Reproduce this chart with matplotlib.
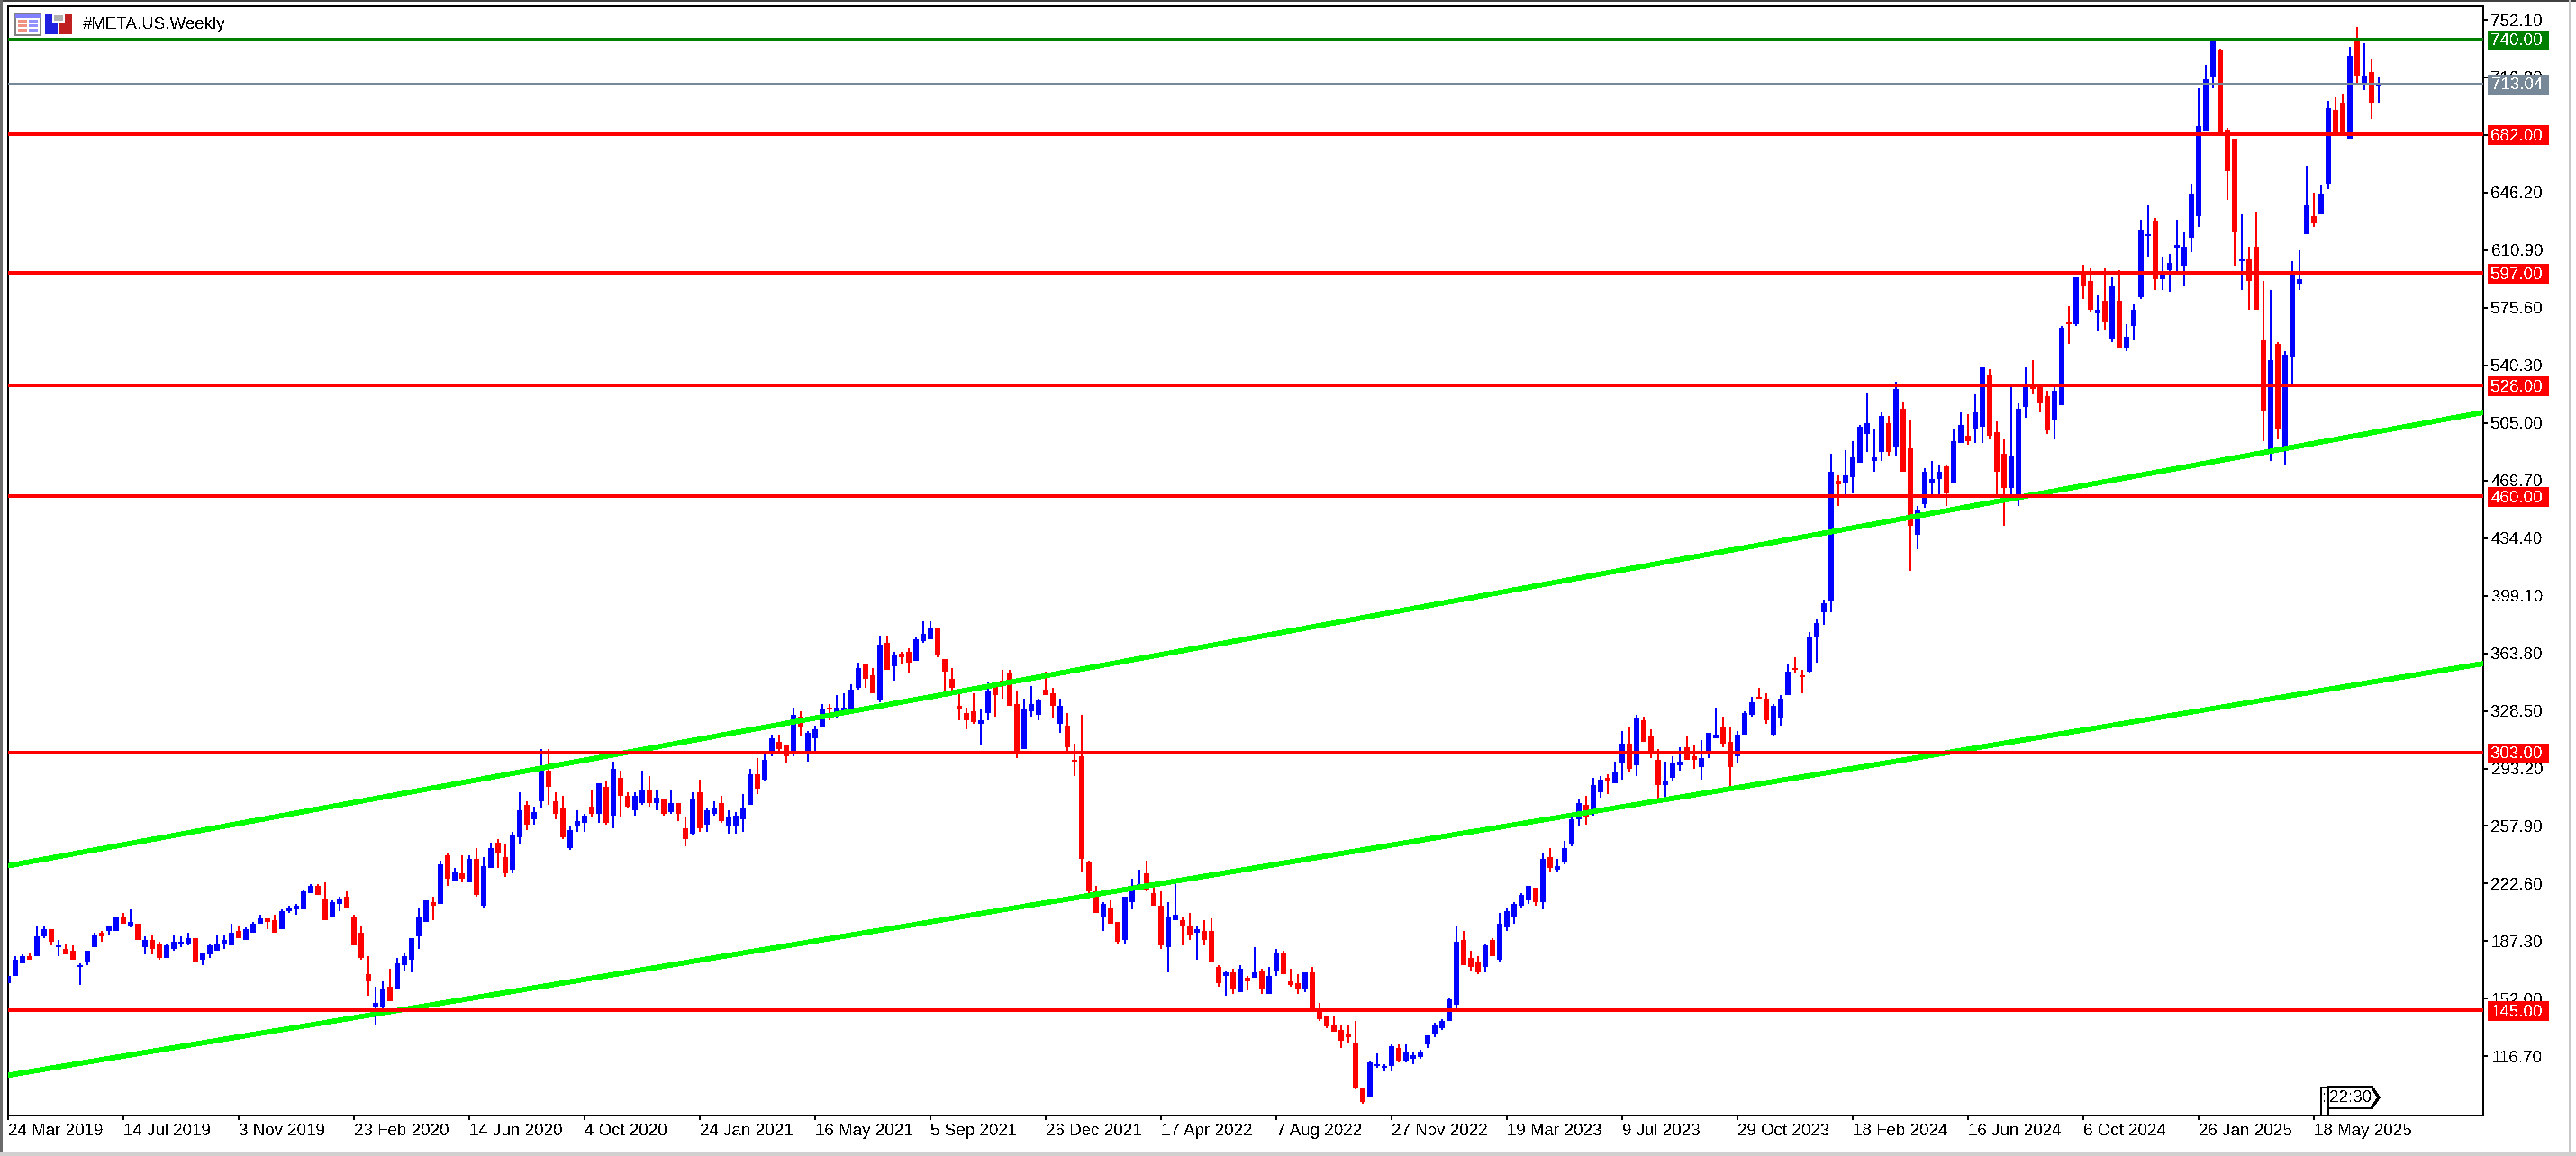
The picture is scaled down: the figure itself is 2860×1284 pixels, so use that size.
#!/usr/bin/env python3
"""Weekly #META.US candles with support/resistance levels, terminal look."""

import matplotlib

matplotlib.use("Agg")
import matplotlib.pyplot as plt
from matplotlib.patches import Polygon, Rectangle
from matplotlib.transforms import IdentityTransform

opens = [
    161.8, 166.0, 173.7, 178.1, 178.1, 190.3, 194.7, 183.7, 182.6, 181.4,
    171.5, 174.8, 183.7, 192.5, 193.6, 193.6, 202.4, 196.9, 198.0, 183.7,
    188.1, 185.9, 177.0, 182.6, 185.9, 185.9, 189.2, 175.9, 179.2, 181.4,
    185.9, 184.8, 193.6, 188.1, 192.5, 198.0, 201.3, 200.2, 194.7, 205.7,
    206.8, 206.8, 216.8, 221.2, 213.5, 202.4, 210.2, 214.6, 202.4, 192.5,
    167.1, 147.3, 147.3, 159.4, 158.3, 172.6, 175.9, 190.3, 199.1, 211.3,
    210.2, 240.0, 224.5, 228.9, 223.4, 237.8, 209.0, 232.2, 247.7, 238.9,
    231.1, 251.0, 270.9, 262.0, 273.1, 291.8, 273.1, 268.7, 244.4, 257.6,
    259.8, 269.8, 265.4, 281.9, 264.2, 287.4, 276.4, 267.5, 271.9, 279.7,
    271.9, 274.1, 266.4, 271.9, 256.5, 253.2, 278.6, 258.7, 265.3, 271.9,
    257.6, 257.6, 262.0, 270.8, 289.6, 286.3, 302.8, 309.5, 307.3, 301.7,
    324.9, 304.0, 311.7, 318.3, 330.4, 326.0, 326.4, 329.3, 342.6, 356.9,
    350.3, 334.9, 370.2, 355.8, 363.6, 364.7, 359.2, 371.3, 372.4, 379.0,
    360.3, 348.1, 331.6, 327.1, 328.2, 320.5, 327.1, 343.0, 347.0, 351.4,
    332.7, 305.1, 328.2, 326.0, 341.5, 339.3, 320.5, 319.4, 298.4, 300.6,
    235.5, 217.8, 202.4, 207.9, 199.1, 188.0, 211.2, 218.8, 228.9, 216.7,
    209.0, 183.6, 200.2, 200.2, 196.9, 192.4, 193.6, 193.6, 171.5, 166.0,
    168.2, 156.0, 164.9, 164.9, 169.3, 155.0, 169.3, 180.3, 162.7, 161.6,
    158.3, 168.2, 144.3, 141.7, 136.2, 132.9, 130.7, 125.1, 97.5, 92.0,
    110.8, 109.7, 110.8, 121.8, 114.1, 115.2, 116.3, 124.0, 130.7, 134.0,
    138.4, 148.3, 188.1, 177.0, 174.8, 171.5, 188.1, 175.9, 195.8, 202.4,
    209.0, 212.4, 220.1, 211.3, 238.9, 231.1, 235.5, 246.5, 262.0, 270.8,
    265.3, 278.5, 287.4, 284.1, 296.2, 308.4, 295.1, 322.7, 312.8, 298.4,
    283.0, 287.4, 295.1, 306.1, 300.6, 294.0, 303.9, 311.7, 318.3, 309.5,
    300.6, 313.9, 326.0, 337.0, 335.9, 313.9, 323.8, 338.2, 354.7, 350.3,
    352.5, 373.5, 388.9, 395.5, 469.5, 468.4, 471.7, 480.5, 498.2, 481.6,
    487.2, 504.8, 490.5, 513.7, 489.4, 436.4, 455.1, 468.4, 470.6, 478.3,
    468.4, 492.7, 497.1, 501.5, 502.6, 534.6, 499.3, 486.0, 465.1, 459.6,
    514.8, 526.9, 526.9, 521.4, 507.0, 515.9, 566.7, 565.6, 596.5, 592.1,
    572.2, 579.9, 556.7, 579.9, 551.2, 564.5, 582.1, 619.7, 628.5, 593.2,
    598.7, 611.9, 600.9, 618.6, 631.8, 683.7, 716.8, 733.4, 684.8, 679.3,
    604.2, 605.3, 613.1, 555.6, 488.3, 553.4, 490.1, 545.7, 589.9, 620.8,
    631.8, 632.9, 651.7, 696.9, 701.4, 679.3, 738.9, 713.5, 720.1, 711.5,
]
closes = [
    166.0, 175.9, 178.1, 175.9, 190.3, 194.7, 187.0, 184.8, 179.2, 175.9,
    172.6, 181.4, 191.4, 190.3, 196.9, 202.4, 198.0, 199.1, 188.1, 188.1,
    182.6, 177.0, 184.8, 187.0, 187.0, 189.2, 174.8, 180.3, 184.8, 185.9,
    188.1, 192.5, 189.2, 194.7, 198.0, 201.3, 199.1, 192.5, 205.7, 207.9,
    209.0, 217.9, 221.2, 215.7, 200.2, 211.3, 213.5, 207.9, 184.8, 177.0,
    162.7, 149.5, 158.3, 150.6, 173.7, 178.1, 189.2, 202.4, 212.4, 209.0,
    234.4, 225.6, 230.0, 225.6, 237.8, 215.7, 233.3, 244.4, 241.1, 228.9,
    252.1, 267.6, 258.7, 266.5, 291.8, 281.9, 265.4, 251.0, 255.4, 260.9,
    264.2, 265.4, 284.1, 259.8, 293.0, 276.4, 269.8, 276.4, 279.7, 271.9,
    275.2, 265.3, 271.9, 265.3, 249.9, 274.1, 256.5, 267.5, 268.6, 260.9,
    263.1, 264.2, 268.6, 289.6, 280.8, 298.4, 311.7, 305.1, 300.6, 326.0,
    318.3, 315.0, 317.2, 329.3, 329.3, 330.4, 330.4, 341.5, 354.7, 348.1,
    339.3, 369.1, 353.6, 362.5, 361.4, 358.0, 372.4, 375.7, 379.0, 362.5,
    352.5, 342.6, 329.3, 322.7, 321.6, 322.7, 340.4, 338.2, 345.5, 331.6,
    302.8, 329.3, 332.7, 334.9, 338.2, 331.6, 331.6, 306.2, 297.3, 237.7,
    217.8, 204.6, 210.1, 198.0, 186.9, 214.5, 219.0, 222.3, 218.8, 209.0,
    184.7, 202.4, 203.5, 196.9, 191.3, 194.7, 188.0, 174.8, 161.5, 168.2,
    158.2, 170.4, 162.7, 168.2, 158.3, 166.0, 180.3, 167.1, 160.5, 158.3,
    168.2, 146.1, 139.5, 135.1, 131.8, 126.2, 128.5, 97.5, 88.7, 113.0,
    111.9, 110.8, 122.9, 114.1, 119.6, 117.4, 119.6, 129.6, 136.2, 138.4,
    151.6, 187.0, 172.6, 171.5, 168.2, 184.8, 178.1, 198.0, 205.7, 210.2,
    215.7, 221.2, 211.3, 237.8, 232.2, 233.3, 244.4, 262.0, 271.9, 263.8,
    283.0, 286.3, 285.2, 290.7, 308.4, 292.9, 323.8, 309.5, 303.9, 283.0,
    285.2, 296.2, 297.3, 298.4, 298.4, 299.5, 315.0, 313.9, 308.4, 294.0,
    313.9, 327.1, 333.7, 335.9, 322.7, 331.5, 335.9, 352.5, 353.6, 349.2,
    373.5, 382.3, 394.5, 475.0, 467.3, 472.8, 483.8, 502.6, 504.8, 483.8,
    509.2, 487.2, 525.8, 475.0, 441.9, 451.8, 475.0, 470.6, 475.0, 461.8,
    493.8, 503.7, 493.8, 511.4, 539.0, 497.1, 475.0, 465.1, 484.9, 513.7,
    526.9, 525.8, 517.0, 500.4, 524.7, 563.4, 565.6, 594.2, 588.8, 574.4,
    574.4, 566.7, 588.8, 551.2, 557.8, 574.4, 623.0, 620.8, 593.2, 595.4,
    603.1, 614.2, 613.1, 645.1, 687.0, 715.7, 740.0, 682.4, 659.4, 621.9,
    605.3, 592.1, 574.4, 512.6, 543.5, 501.6, 546.8, 596.8, 593.2, 638.4,
    627.4, 645.1, 698.0, 681.5, 681.5, 730.1, 717.9, 717.9, 701.4, 713.04,
]
highs = [
    166.0, 178.1, 179.2, 180.3, 196.9, 196.9, 194.7, 188.1, 185.9, 184.8,
    173.7, 181.4, 192.5, 193.6, 196.9, 202.4, 204.6, 206.8, 198.0, 190.3,
    191.4, 187.0, 185.9, 191.4, 190.3, 192.5, 189.2, 180.3, 185.9, 191.4,
    191.4, 198.0, 196.9, 195.8, 199.1, 203.5, 201.3, 203.5, 206.8, 209.0,
    210.2, 219.0, 222.3, 222.3, 223.4, 212.4, 214.6, 217.9, 203.5, 196.9,
    178.1, 159.4, 162.7, 170.4, 177.0, 180.3, 189.2, 207.9, 212.4, 214.6,
    236.6, 241.1, 232.2, 240.0, 240.0, 244.4, 238.9, 247.7, 249.9, 246.6,
    254.3, 278.6, 273.1, 269.8, 305.3, 305.3, 278.6, 276.4, 257.6, 267.6,
    265.4, 279.7, 284.1, 285.2, 297.4, 291.8, 278.6, 278.6, 291.8, 288.5,
    279.7, 274.1, 279.7, 271.9, 263.1, 278.6, 286.3, 268.6, 273.0, 276.4,
    267.5, 266.4, 277.5, 292.9, 299.5, 301.7, 313.9, 313.9, 307.3, 330.4,
    328.2, 316.1, 319.4, 332.7, 332.7, 338.2, 339.3, 344.8, 358.0, 356.9,
    354.7, 374.6, 374.6, 364.7, 364.7, 366.9, 373.5, 383.4, 383.4, 379.0,
    360.3, 354.7, 339.3, 330.4, 339.3, 329.3, 345.9, 344.8, 353.6, 353.6,
    340.4, 336.0, 343.7, 336.0, 352.5, 342.6, 336.0, 327.1, 308.4, 326.0,
    236.6, 221.2, 211.2, 212.3, 199.1, 214.5, 225.6, 231.1, 236.6, 220.0,
    217.8, 211.2, 222.3, 202.4, 204.6, 196.9, 200.2, 201.3, 172.6, 169.3,
    170.4, 172.6, 166.0, 183.7, 170.4, 171.5, 182.6, 181.4, 170.4, 167.1,
    168.2, 171.5, 149.4, 141.7, 141.7, 136.2, 136.2, 138.4, 97.5, 114.1,
    118.5, 111.9, 124.0, 124.0, 124.0, 119.6, 120.7, 129.6, 137.3, 139.5,
    152.7, 196.9, 193.6, 181.4, 178.1, 185.9, 189.2, 204.6, 207.9, 211.3,
    216.8, 221.2, 220.1, 241.1, 244.4, 237.8, 248.8, 264.7, 274.1, 276.3,
    287.4, 288.5, 289.6, 297.3, 316.1, 318.3, 326.0, 324.9, 317.2, 305.0,
    297.3, 300.6, 306.1, 312.8, 307.2, 310.6, 315.0, 330.4, 324.9, 318.3,
    316.1, 328.2, 337.0, 342.6, 339.3, 332.6, 338.2, 356.9, 361.3, 353.6,
    376.8, 384.5, 396.7, 486.0, 472.8, 488.3, 493.8, 503.7, 523.6, 501.5,
    511.4, 509.2, 530.2, 518.1, 507.0, 454.0, 477.2, 481.6, 479.4, 479.4,
    501.5, 511.4, 510.3, 522.5, 539.0, 537.9, 505.9, 494.9, 526.9, 517.0,
    539.0, 543.5, 528.7, 524.7, 526.9, 564.5, 576.7, 594.2, 602.0, 599.8,
    583.2, 599.8, 594.2, 598.7, 565.6, 577.7, 629.6, 638.4, 630.7, 606.4,
    608.6, 629.6, 621.9, 651.7, 710.2, 724.6, 740.0, 734.5, 685.9, 679.3,
    632.9, 613.1, 634.0, 592.1, 586.5, 554.5, 549.0, 604.2, 610.8, 662.7,
    646.2, 650.6, 702.5, 704.7, 706.9, 735.6, 747.7, 737.8, 727.9, 716.8,
]
lows = [
    161.8, 166.0, 173.7, 175.9, 178.1, 189.2, 184.8, 178.1, 179.2, 175.9,
    160.5, 172.6, 183.7, 187.0, 191.4, 193.6, 198.0, 195.8, 188.1, 179.2,
    179.2, 175.9, 177.0, 181.4, 183.7, 184.8, 174.8, 172.6, 177.0, 181.4,
    182.6, 184.8, 189.2, 188.1, 192.5, 198.0, 194.7, 192.5, 194.7, 204.6,
    203.5, 206.8, 216.8, 215.7, 200.2, 202.4, 205.7, 207.9, 184.8, 175.9,
    153.9, 136.2, 146.2, 150.6, 158.3, 169.3, 168.2, 182.6, 199.1, 200.2,
    210.2, 221.2, 224.5, 223.4, 223.4, 214.6, 207.9, 232.2, 232.2, 226.7,
    228.9, 246.6, 255.4, 258.7, 268.7, 270.9, 262.0, 249.9, 243.3, 254.3,
    254.3, 263.1, 259.8, 258.7, 256.5, 263.1, 268.7, 264.2, 270.8, 269.7,
    267.5, 264.2, 265.3, 260.9, 245.4, 252.1, 254.3, 254.3, 264.2, 259.8,
    253.2, 253.2, 254.3, 270.8, 277.5, 285.2, 300.6, 302.8, 296.2, 300.6,
    312.8, 297.3, 302.8, 318.3, 322.7, 324.6, 326.4, 329.3, 341.5, 342.6,
    339.3, 333.8, 353.6, 347.0, 356.9, 351.4, 359.2, 370.2, 372.4, 361.4,
    340.4, 340.4, 322.7, 317.2, 320.5, 307.3, 322.7, 324.9, 336.0, 331.6,
    299.5, 305.1, 324.9, 322.7, 338.2, 323.8, 315.0, 304.0, 288.5, 230.0,
    216.7, 204.6, 193.6, 198.0, 185.8, 185.8, 206.8, 218.8, 217.8, 209.0,
    182.5, 168.2, 200.2, 184.7, 188.0, 175.9, 184.7, 174.8, 159.3, 153.8,
    154.9, 156.0, 157.2, 164.9, 155.0, 155.0, 166.0, 167.1, 159.4, 155.0,
    156.1, 146.1, 138.4, 134.0, 131.8, 121.8, 125.1, 96.4, 87.6, 92.0,
    109.7, 107.5, 107.5, 113.0, 113.0, 111.9, 115.2, 121.8, 128.5, 132.9,
    138.4, 146.1, 172.6, 169.3, 167.1, 168.2, 178.1, 174.8, 193.6, 198.0,
    207.9, 210.2, 209.0, 206.8, 230.0, 230.0, 234.4, 245.4, 257.6, 258.7,
    264.2, 275.2, 277.4, 284.1, 286.3, 290.7, 288.5, 309.5, 299.5, 274.9,
    274.9, 285.2, 291.8, 298.4, 292.9, 286.3, 299.5, 311.7, 306.1, 281.8,
    296.2, 313.9, 324.9, 335.9, 320.5, 312.8, 319.4, 338.2, 351.4, 339.3,
    351.4, 358.0, 381.2, 388.9, 454.0, 460.7, 461.8, 480.5, 487.2, 475.0,
    481.6, 485.0, 485.0, 475.0, 414.3, 427.5, 452.9, 460.7, 460.7, 454.0,
    468.4, 492.7, 491.6, 492.7, 492.7, 494.9, 460.7, 441.9, 460.7, 454.0,
    508.1, 522.5, 511.4, 498.2, 494.9, 515.9, 553.5, 564.5, 581.0, 573.3,
    561.2, 562.3, 554.5, 551.2, 549.0, 555.6, 581.0, 606.4, 586.5, 586.5,
    585.4, 596.8, 588.8, 609.7, 625.2, 683.7, 710.2, 682.4, 641.7, 600.9,
    586.5, 574.4, 574.4, 493.8, 481.7, 494.9, 479.5, 529.1, 586.5, 620.8,
    625.2, 632.9, 648.4, 681.5, 681.5, 679.3, 713.5, 709.1, 691.4, 701.4,
]

date_labels = [
    "24 Mar 2019", "14 Jul 2019", "3 Nov 2019", "23 Feb 2020", "14 Jun 2020",
    "4 Oct 2020", "24 Jan 2021", "16 May 2021", "5 Sep 2021", "26 Dec 2021",
    "17 Apr 2022", "7 Aug 2022", "27 Nov 2022", "19 Mar 2023", "9 Jul 2023",
    "29 Oct 2023", "18 Feb 2024", "16 Jun 2024", "6 Oct 2024", "26 Jan 2025",
    "18 May 2025",
]
price_ticks = [
    752.10, 716.80, 681.50, 646.20, 610.90, 575.60, 540.30, 505.00, 469.70, 434.40,
    399.10, 363.80, 328.50, 293.20, 257.90, 222.60, 187.30, 152.00, 116.70,
]
red_levels = [682.0, 597.0, 528.0, 460.0, 303.0, 145.0]
green_level = 740.0
last_price = 713.04
upper_trend = [233.5, 511.5]
lower_trend = [105.1, 357.5]

WIDTH, HEIGHT = 2860, 1284
FONT = "Liberation Sans"
FS = 13.5
BLUE, RED, LIME = "#0000ff", "#ff0000", "#00ff00"

plt.rcParams["font.family"] = [FONT, "DejaVu Sans"]
plt.rcParams["text.antialiased"] = False


def fig_rect(fig, x, y, w, h, color):
    """Rectangle in image pixels, y counted from the top."""
    fig.add_artist(Rectangle((x, HEIGHT - y - h), w, h, transform=IdentityTransform(),
                             facecolor=color, edgecolor="none", antialiased=False))


def draw_icons(fig):
    fig_rect(fig, 16, 14, 30, 26, "#808080")
    fig_rect(fig, 18, 16, 26, 22, "#ffffff")
    fig_rect(fig, 17, 15, 28, 5, "#8080ff")
    for y in (22, 27, 32):
        fig_rect(fig, 20, y, 10, 3, "#f09080")
        fig_rect(fig, 32, y, 10, 3, "#9090ff")
    fig_rect(fig, 50, 16, 8, 22, "#2020e0")
    fig_rect(fig, 50, 26, 14, 12, "#2020e0")
    fig_rect(fig, 60, 17, 10, 6, "#b0b0b0")
    fig_rect(fig, 72, 16, 8, 22, "#c02020")
    fig_rect(fig, 66, 26, 14, 12, "#c02020")


def draw_frame(fig):
    fig_rect(fig, 0, 0, WIDTH, 2, "#404040")
    fig_rect(fig, 0, 0, 3, HEIGHT, "#6a6a6a")
    fig_rect(fig, 2852, 0, 3, HEIGHT, "#c8c8c8")
    fig_rect(fig, 0, 1280, WIDTH, 4, "#d0d0d0")


def draw_timer(fig):
    bottom = HEIGHT - 1239
    top = HEIGHT - 1207
    tag = [(2585, bottom + 8), (2585, top), (2633, top), (2641, top - 12),
           (2633, bottom + 8)]
    fig.add_artist(Polygon(tag, closed=True, transform=IdentityTransform(), facecolor="white",
                           edgecolor="black", linewidth=1.44, antialiased=False))
    for x in (2577, 2585):
        fig_rect(fig, x - 1, 1207, 2, 32, "black")
    fig_rect(fig, 2577, 1207, 8, 2, "black")
    fig.text(2581 / WIDTH, 1 - 1219 / HEIGHT, ":", fontsize=FS, ha="center", va="center")
    fig.text(2610 / WIDTH, 1 - 1219 / HEIGHT, "22:30", fontsize=FS, ha="center", va="center")


def main():
    fig = plt.figure(figsize=(WIDTH / 100, HEIGHT / 100), dpi=100, facecolor="white")
    ax = fig.add_axes([9 / WIDTH, 1 - 1239 / HEIGHT, 2748 / WIDTH, 1232 / HEIGHT])
    ax.set_xlim(0, 343.5)
    ax.set_ylim(80.44, 760.4)

    # candles
    x = list(range(len(opens)))
    colors = [BLUE if c >= o else RED for o, c in zip(opens, closes)]
    ax.vlines(x, lows, highs, colors=colors, linewidth=1.44, antialiased=False, zorder=2)
    bottoms = [min(o, c) for o, c in zip(opens, closes)]
    heights = [abs(c - o) for o, c in zip(opens, closes)]
    ax.bar(x, heights, width=0.75, bottom=bottoms, color=colors, linewidth=0,
           antialiased=False, zorder=3)

    # trend channels, then the horizontal levels on top
    ax.plot([0, 343.5], upper_trend, color=LIME, linewidth=3.4, antialiased=False,
            solid_capstyle="butt", zorder=4)
    ax.plot([0, 343.5], lower_trend, color=LIME, linewidth=3.4, antialiased=False,
            solid_capstyle="butt", zorder=4)
    ax.axhline(last_price, color="#778899", linewidth=1.44, antialiased=False, zorder=5)
    ax.axhline(green_level, color="#008000", linewidth=2.88, antialiased=False, zorder=5)
    for level in red_levels:
        ax.axhline(level, color=RED, linewidth=2.88, antialiased=False, zorder=5)

    ax.set_xticks(list(range(0, 16 * len(date_labels), 16)))
    ax.set_xticklabels(date_labels, ha="left", fontsize=FS)
    ax.yaxis.tick_right()
    ax.set_yticks(price_ticks)
    ax.set_yticklabels([f"{p:.2f}" for p in price_ticks], ha="right", fontsize=FS)
    ax.tick_params(axis="x", length=3.6, width=1.44, pad=3)
    ax.tick_params(axis="y", length=3.6, width=1.44, pad=44)
    for spine in ax.spines.values():
        spine.set_linewidth(1.44)
        spine.set_antialiased(False)

    # price tags over the axis, sitting a touch below their line like the terminal does
    per_px = (760.4 - 80.44) / 1232
    box_left = (2762 - 9) / 2748
    box_width = 68 / 2748
    box_height = 22 * per_px
    text_x = (2823 - 9) / 2748
    tags = [(level, RED) for level in red_levels]
    tags += [(green_level, "#008000"), (last_price, "#778899")]
    trans = ax.get_yaxis_transform()
    for level, color in tags:
        ax.add_patch(Rectangle((box_left, level - box_height / 2 - per_px), box_width, box_height,
                               transform=trans, facecolor=color, edgecolor="none",
                               clip_on=False, antialiased=False, zorder=10))
        ax.text(text_x, level - 2 * per_px, f"{level:.2f}", transform=trans, color="white",
                fontsize=FS, ha="right", va="center", zorder=11)

    draw_frame(fig)
    draw_icons(fig)
    fig.text(92 / WIDTH, 1 - 27 / HEIGHT, "#META.US,Weekly", fontsize=FS, ha="left", va="center")
    draw_timer(fig)

    fig.savefig("out.png", dpi=100)
    plt.close(fig)


if __name__ == "__main__":
    main()
